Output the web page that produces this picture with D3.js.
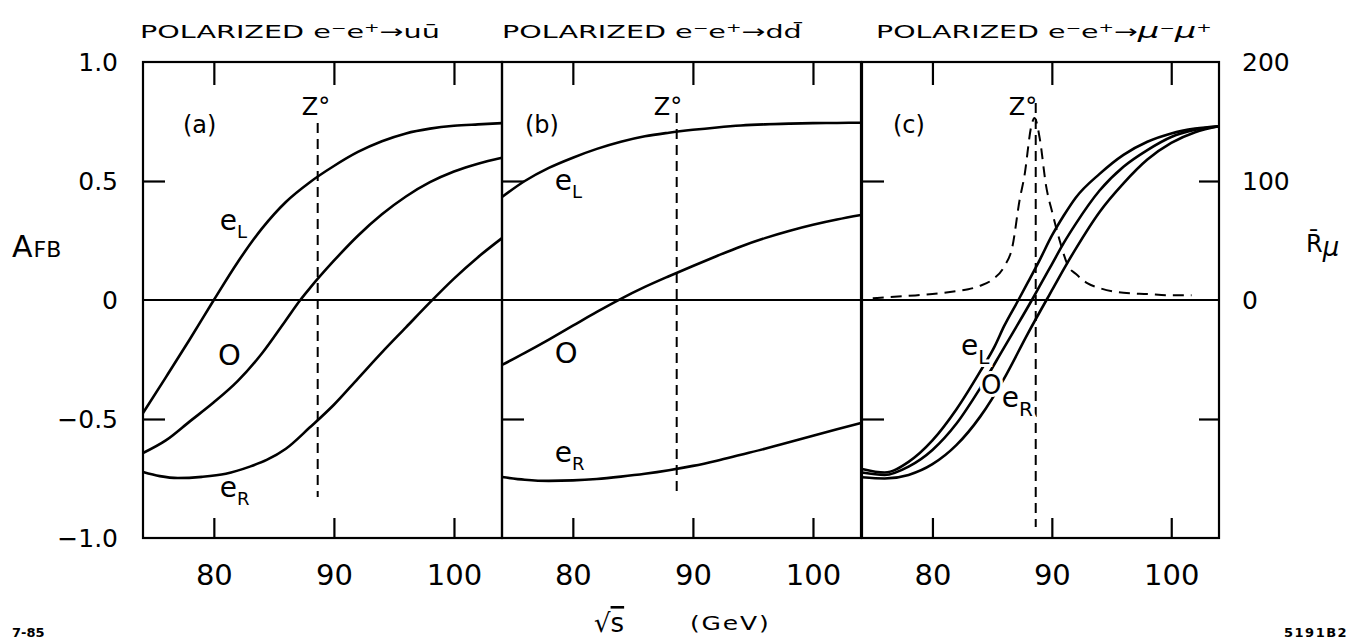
<!DOCTYPE html>
<html><head><meta charset="utf-8">
<script src="https://cdn.jsdelivr.net/npm/d3@7"></script>
<style>
html,body{margin:0;padding:0;background:#fff;}
svg{display:block;}
text{font-family:"DejaVu Sans",sans-serif;fill:#000;}
</style></head><body>
<svg id="chart" width="1362" height="643"></svg>
<script>
// ---------- data ----------
const xTicks = [80, 90, 100];
const xTickLabels = ["80", "90", "100"];
const yTicks = [1, 0.5, 0, -0.5, -1];
const yTickLabels = ["1.0", "0.5", "0", "\u22120.5", "\u22121.0"];
const rTicks = [200, 100, 0];
const rTickLabels = ["200", "100", "0"];
const zMass = 88.65;

// panel (a) e+e- -> u ubar
const aEL = [[74.1,-0.475],[76,-0.325],[78,-0.165],[80,0.0],[82,0.16],[84,0.30],[86,0.412],[88,0.495],[90,0.563],[92,0.622],[94,0.667],[96,0.70],[98,0.72],[100,0.732],[102,0.738],[104,0.743]];
const aO  = [[74.1,-0.643],[76,-0.59],[78,-0.51],[80,-0.43],[82,-0.34],[84,-0.225],[86,-0.085],[87.2,0.0],[88,0.05],[90,0.165],[92,0.27],[94,0.36],[96,0.435],[98,0.495],[100,0.54],[102,0.573],[104,0.598]];
const aER = [[74.1,-0.723],[75.5,-0.74],[77,-0.748],[79,-0.743],[81,-0.73],[83,-0.70],[84.4,-0.672],[86,-0.625],[88,-0.535],[90,-0.44],[92,-0.33],[94,-0.22],[96,-0.115],[98,-0.01],[100,0.09],[102,0.18],[104,0.26]];
// panel (b) e+e- -> d dbar
const bEL = [[74.1,0.433],[76,0.50],[78,0.555],[80,0.598],[82,0.635],[84,0.665],[86,0.688],[88,0.703],[90,0.715],[92,0.725],[94,0.733],[96,0.738],[98,0.741],[100,0.743],[102,0.744],[104,0.745]];
const bO  = [[74.1,-0.273],[76,-0.222],[78,-0.166],[80,-0.108],[82,-0.05],[84,0.005],[86,0.055],[88,0.1],[90,0.143],[92,0.185],[94,0.225],[96,0.26],[98,0.29],[100,0.316],[102,0.338],[104,0.357]];
const bER = [[74.1,-0.744],[76,-0.755],[78,-0.76],[80,-0.758],[82,-0.752],[84,-0.742],[86,-0.73],[88,-0.715],[90,-0.697],[92,-0.675],[94,-0.65],[96,-0.625],[98,-0.598],[100,-0.57],[102,-0.543],[104,-0.517]];
// panel (c) e+e- -> mu mu
const cEL = [[74.1,-0.71],[76,-0.725],[78,-0.68],[80,-0.59],[82,-0.46],[84,-0.30],[85.2,-0.196],[86,-0.11],[87.2,0.0],[88,0.075],[89,0.17],[90,0.27],[91,0.355],[92,0.43],[94,0.53],[96,0.61],[98,0.665],[100,0.70],[102,0.72],[104,0.73]];
const cO  = [[74.1,-0.725],[76,-0.735],[78,-0.70],[80,-0.63],[82,-0.52],[84,-0.37],[86,-0.20],[87,-0.115],[88.33,0.0],[89,0.06],[90,0.15],[91,0.24],[92,0.32],[94,0.46],[96,0.56],[98,0.63],[100,0.685],[102,0.715],[104,0.73]];
const cER = [[74.1,-0.745],[76,-0.75],[78,-0.735],[80,-0.69],[82,-0.61],[84,-0.49],[86,-0.33],[88,-0.14],[89.55,0.0],[90,0.04],[91,0.13],[92,0.215],[94,0.37],[96,0.49],[98,0.59],[100,0.66],[102,0.705],[104,0.73]];
// R_mu (right axis) in panel (c)
const cR = [[75,1.5],[78,3.5],[80,5],[82,7.5],[83,9],[84,12],[85,17],[86,28],[86.7,45],[87.3,84],[87.7,104],[88.3,147],[88.55,153],[89,135],[89.5,97],[90.05,73],[90.6,52],[91.4,28],[92,22],[93,14],[94,10],[96,6],[98,5],[100,4],[101.7,4]];

// Z0 dashed marker extents (in A_FB units)
const zLineTop = [0.744, 0.786, 0.828];
const zLineBottom = [-0.828, -0.819, -0.954];

const panelNames = ["(a)", "(b)", "(c)"];
const panelCurves = [[aEL, aO, aER], [bEL, bO, bER], [cEL, cO, cER]];
const titleParts = [
  [{t:"POLARIZED e"},{t:"\u2212",sup:1},{t:"e"},{t:"+",sup:1},{t:"\u2192u\u016B"}],
  [{t:"POLARIZED e"},{t:"\u2212",sup:1},{t:"e"},{t:"+",sup:1},{t:"\u2192dd\u0304"}],
  [{t:"POLARIZED e"},{t:"\u2212",sup:1},{t:"e"},{t:"+",sup:1},{t:"\u2192"},{t:"\u03BC",it:1},{t:"\u2212",sup:1},{t:"\u03BC",it:1},{t:"+",sup:1}]
];
const curveLabels = [["e","L"],["O",""],["e","R"]];
const labelPos = [ // GeV, A_FB of baseline
  [[80.5,0.294],[80.35,-0.273],[80.5,-0.828]],
  [[78.5,0.462],[78.5,-0.265],[78.5,-0.681]],
  [[82.4,-0.231],[84.07,-0.395],[85.8,-0.45]]
];

// ---------- layout ----------
const svg = d3.select("#chart");
const yTop = 62, yBot = 538;
const panelRanges = [[143, 502], [502, 861], [862, 1219]];
const panelLabelOffset = [40, 23, 31];
const zLabelOffset = [-16, -23, -27];
const y = d3.scaleLinear().domain([-1, 1]).range([yBot, yTop]);
const yR = d3.scaleLinear().domain([-200, 200]).range([yBot, yTop]);

const mkLine = (xs, ys) => d3.line().x(d => xs(d[0])).y(d => ys(d[1])).curve(d3.curveMonotoneX);

panelRanges.forEach((rng, i) => {
  const x = d3.scaleLinear().domain([74.1, 104]).range(rng);
  const g = svg.append("g");

  g.append("line").attr("x1", rng[0]).attr("x2", rng[1]).attr("y1", y(0)).attr("y2", y(0))
    .attr("stroke", "#000").attr("stroke-width", 2);

  const tickStyle = sel => { sel.select(".domain").remove(); sel.selectAll("line").attr("stroke","#000").attr("stroke-width",2.2); sel.selectAll("text").remove(); };
  g.append("g").attr("transform", `translate(0,${yTop})`)
    .call(d3.axisBottom(x).tickValues(xTicks).tickSize(23)).call(tickStyle);
  g.append("g").attr("transform", `translate(0,${yBot})`)
    .call(d3.axisTop(x).tickValues(xTicks).tickSize(20)).call(tickStyle);
  g.append("g").attr("transform", `translate(${rng[0]},0)`)
    .call(d3.axisRight(y).tickValues([0.5, -0.5]).tickSize(22)).call(tickStyle);
  if (i === 2) {
    g.append("g").attr("transform", `translate(${rng[1]},0)`)
      .call(d3.axisLeft(yR).tickValues([100, -100]).tickSize(20)).call(tickStyle);
  }

  const xl = g.append("g").attr("transform", `translate(0,${yBot})`)
    .call(d3.axisBottom(x).tickValues(xTicks).tickSize(0).tickFormat((d, k) => xTickLabels[k]));
  xl.select(".domain").remove();
  xl.selectAll("text").attr("y", 47).attr("dy", 0).attr("font-size", 29)
    .attr("font-family", '"DejaVu Sans", sans-serif').attr("fill", "#000");

  g.append("rect").attr("x", rng[0]).attr("y", yTop).attr("width", rng[1] - rng[0]).attr("height", yBot - yTop)
    .attr("fill", "none").attr("stroke", "#000").attr("stroke-width", 2.2);

  g.append("line").attr("x1", x(zMass)).attr("x2", x(zMass))
    .attr("y1", y(zLineTop[i])).attr("y2", y(zLineBottom[i]))
    .attr("stroke", "#000").attr("stroke-width", 2).attr("stroke-dasharray", "10,6");
  g.append("text").attr("x", x(zMass) + zLabelOffset[i]).attr("y", 115).attr("font-size", 24).text("Z\u00B0");

  if (i === 2) {
    g.append("path").datum(cR).attr("d", mkLine(x, yR)).attr("fill", "none")
      .attr("stroke", "#000").attr("stroke-width", 2).attr("stroke-dasharray", "11,7");
  }

  panelCurves[i].forEach(c => {
    g.append("path").datum(c).attr("d", mkLine(x, y)).attr("fill", "none")
      .attr("stroke", "#000").attr("stroke-width", 2.6);
  });

  g.append("text").attr("x", rng[0] + panelLabelOffset[i]).attr("y", 133).attr("font-size", 24).text(panelNames[i]);

  curveLabels.forEach((lab, k) => {
    const p = labelPos[i][k];
    const isO = lab[0] === "O";
    const t = g.append("text").attr("x", x(p[0])).attr("y", y(p[1]))
      .attr("font-size", isO ? (i === 2 ? 26 : 29) : 28);
    if (i === 2) t.attr("stroke", "#fff").attr("stroke-width", 6).attr("paint-order", "stroke");
    t.append("tspan").text(lab[0]);
    if (lab[1]) t.append("tspan").attr("dy", i === 2 ? 9 : 8).attr("font-size", i === 2 ? 20 : 18).text(lab[1]);
  });

  const tt = svg.append("text").attr("font-size", 18.5);
  titleParts[i].forEach(p => {
    const s = tt.append("tspan").text(p.t);
    if (p.sup) s.attr("font-size", 12).attr("baseline-shift", "6");
    if (p.it) s.attr("font-style", "italic").attr("font-size", 22);
  });
  const titleX = [140, 502, 876][i], titleW = [300, 300, 336][i];
  const len = tt.node().getComputedTextLength();
  tt.attr("transform", `translate(${titleX},38) scale(${titleW / len},1)`);
});

const yl = svg.append("g").attr("transform", `translate(${panelRanges[0][0]},0)`)
  .call(d3.axisLeft(y).tickValues(yTicks).tickSize(0).tickFormat((d, k) => yTickLabels[k]));
yl.select(".domain").remove();
yl.selectAll("text").attr("x", -25).attr("font-size", 25)
  .attr("font-family", '"DejaVu Sans", sans-serif').attr("fill", "#000");

const rl = svg.append("g").attr("transform", `translate(${panelRanges[2][1]},0)`)
  .call(d3.axisRight(yR).tickValues(rTicks).tickSize(0).tickFormat((d, k) => rTickLabels[k]));
rl.select(".domain").remove();
rl.selectAll("text").attr("x", 23).attr("font-size", 25)
  .attr("font-family", '"DejaVu Sans", sans-serif').attr("fill", "#000");

const afb = svg.append("text").attr("x", 12).attr("y", 257).attr("font-size", 30);
afb.append("tspan").text("A");
afb.append("tspan").attr("font-size", 22).attr("dx", 1).text("FB");

const rmu = svg.append("text").attr("x", 1306).attr("y", 252).attr("font-size", 24);
rmu.append("tspan").text("R\u0304");
rmu.append("tspan").attr("font-size", 26).attr("font-style", "italic").attr("dy", 4).text("\u03BC");

const sq = svg.append("text").attr("x", 594).attr("y", 632).attr("font-size", 26);
sq.append("tspan").text("\u221A");
sq.append("tspan").attr("text-decoration", "overline").text("s");
svg.append("text").attr("transform", "translate(690,630) scale(1.25,1)").attr("font-size", 20)
  .attr("letter-spacing", 1.5).text("(GeV)");

svg.append("text").attr("x", 12).attr("y", 637).attr("font-size", 13).attr("font-weight", "bold")
  .attr("font-family", '"Liberation Sans", sans-serif').text("7-85");
svg.append("text").attr("x", 1284).attr("y", 637).attr("font-size", 13).attr("font-weight", "bold")
  .attr("font-family", '"Liberation Sans", sans-serif').attr("letter-spacing", 1.5).text("5191B2");
</script>
</body></html>
